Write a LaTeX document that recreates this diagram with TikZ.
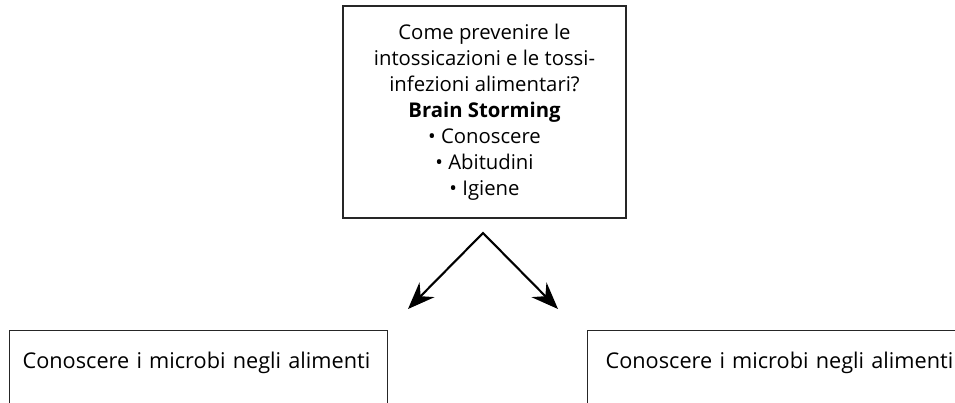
\documentclass[tikz,border=0pt]{standalone}
\usepackage{fontspec}
\setmainfont{Open Sans}
\usetikzlibrary{arrows.meta}
\begin{document}
\begin{tikzpicture}[x=1pt, y=-1pt,
    box/.style={draw=black!85, line width=1.2pt},
    lowbox/.style={box, anchor=north west, text width=352pt, align=left,
        inner xsep=13pt, inner ysep=22pt, text height=16pt, text depth=80pt,
        font=\fontsize{21.7}{26}\selectfont}]
    \useasboundingbox (0,0) rectangle (955,402);
    \clip (0,0) rectangle (955,402);
    \node [box, minimum width=283pt, minimum height=212pt, align=center,
        font=\fontsize{20.3}{26}\selectfont] (question) at (484.5,112)
        {Come prevenire le\\intossicazioni e le tossi-\\infezioni alimentari?\\
         \textbf{Brain Storming}\\• Conoscere\\• Abitudini\\• Igiene};
    \coordinate (apex) at (483,233);
    \coordinate (lefttip) at (408,309);
    \coordinate (righttip) at (558,309);
    \draw [line width=2.1pt, line join=miter,
        {Stealth[length=27pt,width=21pt,inset=9pt]}-{Stealth[length=27pt,width=21pt,inset=9pt]}]
        (lefttip) -- (apex) -- (righttip);
    \node [lowbox] (leftbox) at (9,330) {Conoscere i microbi negli alimenti};
    \node [lowbox, inner xsep=18pt] (rightbox) at (587,330) {Conoscere i microbi negli alimenti};
\end{tikzpicture}
\end{document}
